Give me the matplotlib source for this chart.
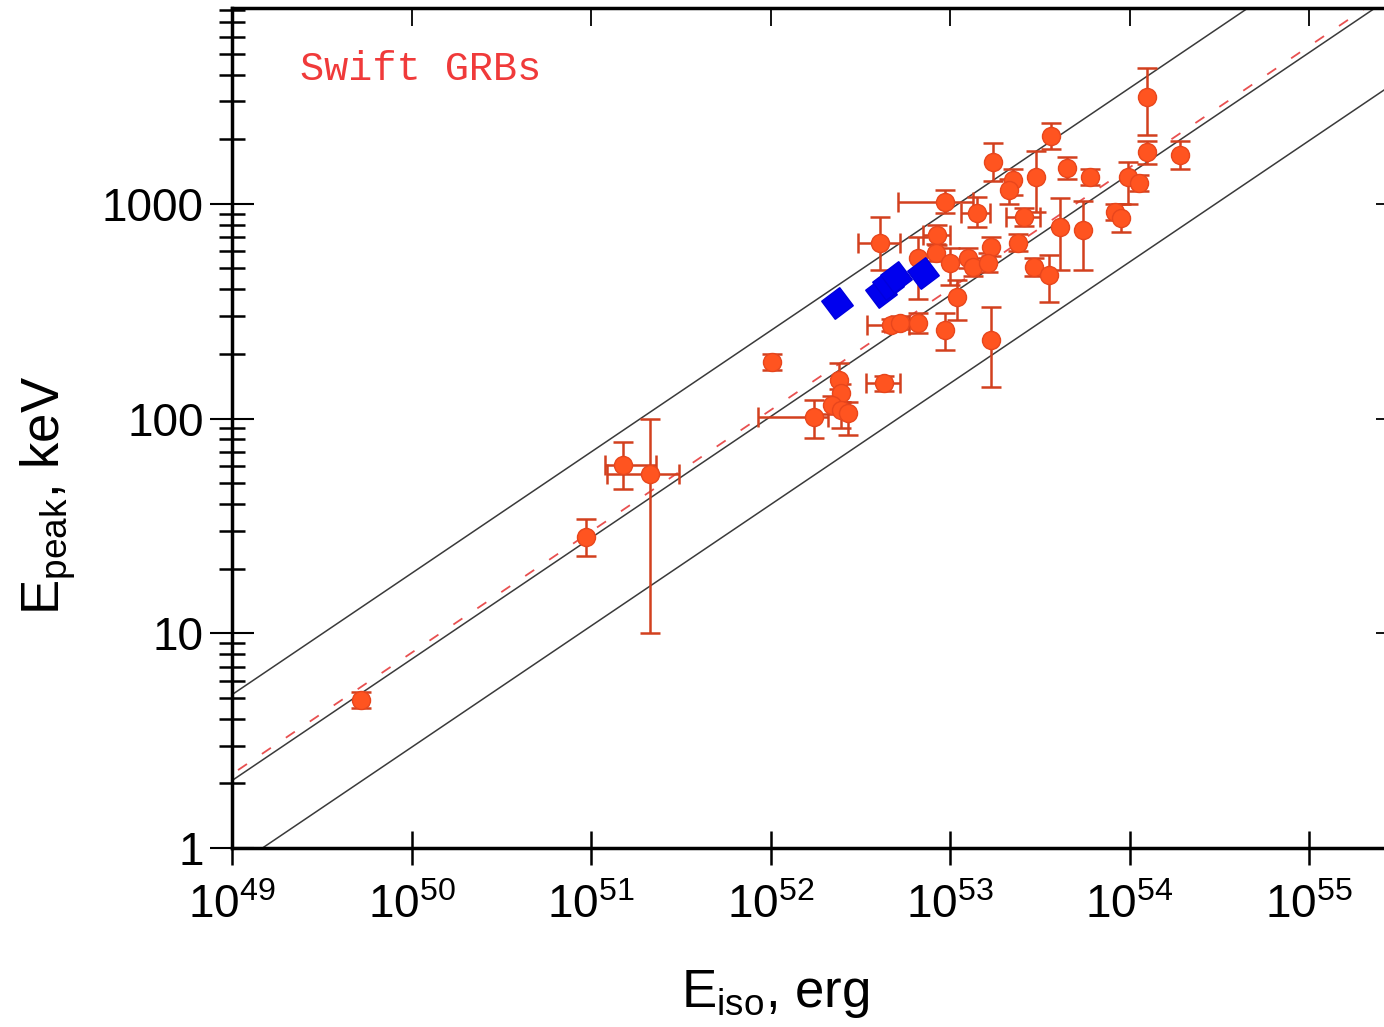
import numpy as np
import matplotlib.pyplot as plt
from matplotlib.ticker import FixedLocator, NullLocator, NullFormatter, FuncFormatter

plt.rcParams['font.family'] = ['Liberation Sans', 'DejaVu Sans']
plt.rcParams['mathtext.fontset'] = 'custom'
plt.rcParams['mathtext.rm'] = 'Liberation Sans'
plt.rcParams['mathtext.it'] = 'Liberation Sans:italic'
plt.rcParams['mathtext.bf'] = 'Liberation Sans:bold'

# ---- Swift GRBs: log10(Eiso/erg), Epeak and its lower/upper bounds (keV)
eiso_log = [49.72, 50.97, 51.18, 51.33, 52.01, 52.24, 52.38, 52.39, 52.34, 52.39,
            52.43, 52.63, 52.67, 52.72, 52.82, 52.97, 53.23, 53.04, 52.61, 52.93,
            52.92, 52.82, 53.00, 53.10, 53.13, 53.23, 53.21, 53.38, 52.97, 53.15,
            53.41, 53.24, 53.35, 53.33, 53.48, 53.56, 53.65, 53.78, 53.61, 53.74,
            53.92, 53.95, 53.47, 53.55, 53.99, 54.05, 54.10, 54.10, 54.28]
epeak = [4.9, 28, 61, 55, 184, 102, 151, 132, 116, 110,
         106, 146, 273, 279, 279, 259, 232, 368, 658, 716,
         591, 560, 531, 560, 508, 630, 531, 658, 1020, 907,
         869, 1567, 1292, 1161, 1334, 2070, 1470, 1335, 780, 755,
         917, 860, 508, 466, 1335, 1251, 3148, 1745, 1690]
epeak_lo = [4.5, 23, 47, 10, 168, 81, 138, 120, 105, 90,
            84, 135, 255, 260, 250, 209, 140, 288, 492, 640,
            540, 360, 420, 500, 460, 570, 480, 600, 907, 780,
            790, 1280, 1100, 1000, 913, 1800, 1300, 1230, 490, 490,
            840, 740, 460, 350, 1000, 1150, 2094, 1530, 1450]
epeak_hi = [5.3, 34, 78, 100, 200, 122, 181, 145, 128, 120,
            120, 158, 292, 300, 310, 310, 331, 442, 869, 800,
            650, 700, 620, 620, 560, 700, 590, 720, 1161, 1077,
            960, 1930, 1450, 1300, 1757, 2370, 1650, 1450, 1070, 1030,
            1000, 1000, 560, 580, 1560, 1360, 4296, 1960, 1960]

# points that carry horizontal error bars: index, log10 Eiso lower, upper
xerr_idx = [2, 3, 5, 11, 12, 18, 19, 28, 29, 30]
xerr_lo_log = [51.08, 51.09, 51.93, 52.53, 52.54, 52.49, 52.85, 52.71, 53.06, 53.31]
xerr_hi_log = [51.36, 51.49, 52.32, 52.72, 52.77, 52.72, 53.00, 53.13, 53.22, 53.50]

# ---- blue diamonds
blue_eiso_log = [52.37, 52.616, 52.655, 52.70, 52.85]
blue_epeak = [345, 389, 422, 457, 476]

# ---- correlation lines: log Ep = a + b (log Eiso - 49), band of +/- offsets
line_a = 0.314
line_b = 0.565
band_offsets = [0.40, 0.0, -0.41]
fit_offset = 0.03

# ---- axis ticks
xtick_exp = [49, 50, 51, 52, 53, 54, 55]
ytick_vals = [1, 10, 100, 1000]

W, H = 1384, 1027
fig = plt.figure(figsize=(W / 100, H / 100), dpi=100)
ax = fig.add_axes([232 / W, (H - 848) / H, (1390 - 232) / W, (848 - 8) / H])
ax.set_xscale('log')
ax.set_yscale('log')
ax.set_xlim(1e49, 10 ** 55.451)
ax.set_ylim(1, 10 ** 3.912)

le = np.linspace(48.5, 56.0, 300)
for off in band_offsets:
    ax.plot(10 ** le, 10 ** (line_a + off + line_b * (le - 49)),
            color='#3a3a3a', lw=1.1, zorder=1)
ax.plot(10 ** le, 10 ** (line_a + fit_offset + line_b * (le - 49)),
        color='#e85050', lw=1.3, dashes=(6, 10), zorder=1.5)

x = 10 ** np.array(eiso_log)
y = np.array(epeak)
ylo = y - np.array(epeak_lo)
yhi = np.array(epeak_hi) - y

ecol = '#d2401e'
ax.errorbar(x, y, yerr=[ylo, yhi], fmt='o', ms=13, mfc='#ff5420', mec='#e8461c',
            ecolor=ecol, elinewidth=1.8, capsize=7, capthick=1.8, zorder=3)
xc = x[xerr_idx]
ax.errorbar(xc, y[xerr_idx],
            xerr=[xc - 10 ** np.array(xerr_lo_log), 10 ** np.array(xerr_hi_log) - xc],
            fmt='none', ecolor=ecol, elinewidth=1.8, capsize=7, capthick=1.8, zorder=2.9)

ax.plot(10 ** np.array(blue_eiso_log), blue_epeak, linestyle='none',
        marker=(4, 0, -8), ms=23, color='#0000ee', mec='#0000dd', zorder=5)

ax.text((300 - 232) / (1390 - 232), (848 - 80) / (848 - 8), 'Swift GRBs',
        transform=ax.transAxes, family='Liberation Mono', color='#f03a3a',
        fontsize=29, va='baseline')

# ticks
ax.xaxis.set_major_locator(FixedLocator([10.0 ** e for e in xtick_exp]))
ax.xaxis.set_major_formatter(FuncFormatter(lambda v, p: r'$10^{%d}$' % round(np.log10(v))))
ax.xaxis.set_minor_locator(NullLocator())
ax.yaxis.set_major_locator(FixedLocator(ytick_vals))
ax.yaxis.set_minor_locator(FixedLocator([m * 10.0 ** k for k in range(0, 4)
                                         for m in range(2, 10)]))
ax.yaxis.set_minor_formatter(NullFormatter())
ax.yaxis.set_major_formatter(FuncFormatter(lambda v, p: f'{v:g}'))

ax.tick_params(axis='x', which='major', direction='inout', length=24, width=1.8,
               labelsize=33, pad=14, top=False)
ax.tick_params(axis='y', which='major', direction='inout', length=31, width=1.5,
               labelsize=33, pad=5, right=False)
ax.tick_params(axis='y', which='minor', direction='inout', length=19, width=1.8,
               right=False)
for s in ax.spines.values():
    s.set_linewidth(2.5)

ax2 = fig.add_axes(ax.get_position(), sharex=ax, sharey=ax, frameon=False)
ax2.tick_params(which='both', direction='in', left=False, bottom=False,
                top=True, right=True, labelleft=False, labelbottom=False)
ax2.tick_params(axis='x', which='major', length=13, width=1.3)
ax2.tick_params(axis='y', which='major', length=10, width=1.3)
ax2.tick_params(axis='y', which='minor', length=4, width=1.5)

fig.text(775 / W, 1 - 1007 / H, r'E$_{\rm iso}$, erg', ha='center', va='baseline',
         fontsize=38)
fig.text(18 / W, 1 - 495 / H, r'E$_{\rm peak}$, keV', rotation=90, ha='left',
         va='center', fontsize=38)

fig.savefig('out.png', dpi=100)
